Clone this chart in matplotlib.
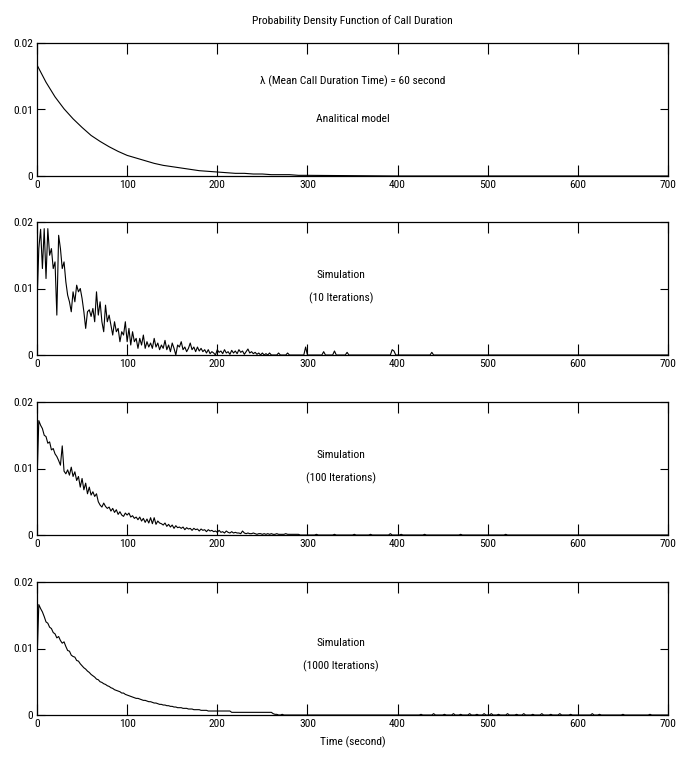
import numpy as np
import matplotlib
matplotlib.use("Agg")
import matplotlib.pyplot as plt
from matplotlib import font_manager as fm


def pick_narrow():
    cands = []
    for f in fm.fontManager.ttflist:
        p = f.fname.lower()
        base = p.rsplit("/", 1)[-1]
        if any(k in base for k in ("bold", "italic", "oblique", "light", "thin", "black", "medium", "semibold")):
            continue
        if "narrow" in base or "condensed" in base:
            if "roboto" in base:
                rank = 0
            elif "liberation" in base:
                rank = 1
            elif "dejavusans" in base.replace("-", ""):
                rank = 2
            else:
                rank = 3
            cands.append((rank, f.fname))
    cands.sort()
    return cands[0][1] if cands else None


narrow_path = pick_narrow()

# ---------------- data ----------------
title = "Probability Density Function of Call Duration"
xlabel = "Time (second)"
x_ticks = [0, 100, 200, 300, 400, 500, 600, 700]
y_ticks = [0, 0.01, 0.02]
y_ticklabels = ["0", "0.01", "0.02"]

# analytical model (sampled every 10 s)
t_model = [0, 10, 20, 30, 40, 50, 60, 70, 80, 90, 100, 110, 120, 130, 140, 150,
           160, 170, 180, 190, 200, 210, 220, 230, 240, 250, 260, 270, 280, 290,
           300, 400, 500, 600, 700]
pdf_model = [0.0167, 0.0141, 0.0119, 0.0101, 0.0086, 0.0073, 0.0061, 0.0052,
             0.0044, 0.0037, 0.0031, 0.0027, 0.0023, 0.0019, 0.0016, 0.0014,
             0.0012, 0.0010, 0.0008, 0.0007, 0.0006, 0.0005, 0.0004, 0.0004,
             0.0003, 0.0003, 0.0002, 0.0002, 0.0002, 0.0001, 0.0001, 0.0,
             0.0, 0.0, 0.0]

# simulations: values every 2 s starting at t = 0
sim10_head = [0.0076, 0.0160, 0.0189, 0.0130, 0.0190, 0.0115, 0.0190, 0.0150,
              0.0160, 0.0130, 0.0140, 0.0060, 0.0180, 0.0160, 0.0130, 0.0140,
              0.0110, 0.0090, 0.0080, 0.0065, 0.0095, 0.0080, 0.0105, 0.0095,
              0.0100, 0.0085, 0.0065, 0.0040, 0.0065, 0.0068, 0.0058, 0.0070,
              0.0050, 0.0095, 0.0060, 0.0080, 0.0050, 0.0035, 0.0075, 0.0050,
              0.0060, 0.0045, 0.0030, 0.0050, 0.0035, 0.0040, 0.0020, 0.0035,
              0.0030, 0.0050, 0.0020, 0.0040, 0.0015, 0.0035, 0.0020, 0.0025,
              0.0010, 0.0025, 0.0015, 0.0030, 0.0010, 0.0020, 0.0012, 0.0018,
              0.0010, 0.0025, 0.0012, 0.0018, 0.0008, 0.0015, 0.0010, 0.0022,
              0.0008, 0.0015, 0.0005, 0.0018, 0.0010, 0.0000, 0.0015, 0.0012,
              0.0020, 0.0008, 0.0012, 0.0005, 0.0010, 0.0018, 0.0008, 0.0012,
              0.0005, 0.0012, 0.0006, 0.0010, 0.0005, 0.0008, 0.0003, 0.0008,
              0.0002, 0.0005, 0.0003, 0.0000, 0.0008, 0.0004, 0.0006, 0.0002,
              0.0008, 0.0003, 0.0005, 0.0001, 0.0007, 0.0003, 0.0006, 0.0002,
              0.0008, 0.0004, 0.0006, 0.0001, 0.0005, 0.0009, 0.0003, 0.0005,
              0.0002, 0.0004, 0.0001, 0.0003, 0.0000, 0.0003, 0.0000, 0.0002,
              0.0000, 0.0003, 0.0000]
sim10_spike_t = [268, 278, 298, 318, 330, 344, 394, 396, 438]
sim10_spike_v = [0.0003, 0.0003, 0.0012, 0.0005, 0.0006, 0.0004, 0.0008, 0.0006, 0.0004]

sim100_head = [0.0080, 0.0172, 0.0165, 0.0160, 0.0150, 0.0148, 0.0138, 0.0140,
               0.0128, 0.0130, 0.0122, 0.0118, 0.0112, 0.0105, 0.0134, 0.0096,
               0.0092, 0.0098, 0.0090, 0.0102, 0.0088, 0.0095, 0.0082, 0.0088,
               0.0072, 0.0085, 0.0068, 0.0078, 0.0062, 0.0072, 0.0060, 0.0065,
               0.0058, 0.0062, 0.0050, 0.0045, 0.0042, 0.0048, 0.0043, 0.0040,
               0.0042, 0.0036, 0.0040, 0.0034, 0.0038, 0.0031, 0.0035, 0.0030,
               0.0028, 0.0033, 0.0030, 0.0033, 0.0027, 0.0029, 0.0025, 0.0027,
               0.0023, 0.0027, 0.0021, 0.0025, 0.0019, 0.0024, 0.0018, 0.0026,
               0.0017, 0.0026, 0.0016, 0.0021, 0.0018, 0.0017, 0.0015, 0.0018,
               0.0013, 0.0016, 0.0012, 0.0015, 0.0010, 0.0014, 0.0011, 0.0012,
               0.0010, 0.0012, 0.0008, 0.0011, 0.0009, 0.0010, 0.0007, 0.0010,
               0.0008, 0.0009, 0.0006, 0.0009, 0.0007, 0.0008, 0.0005, 0.0008,
               0.0006, 0.0007, 0.0005, 0.0006, 0.0004, 0.0007, 0.0004, 0.0005,
               0.0003, 0.0006, 0.0004, 0.0003, 0.0005, 0.0003, 0.0004, 0.0003,
               0.0003, 0.0002, 0.0006, 0.0003, 0.0002, 0.0003, 0.0002, 0.0002,
               0.0003, 0.0002, 0.0001, 0.0002, 0.0002, 0.0001, 0.0002, 0.0001,
               0.0002, 0.0001, 0.0002, 0.0001, 0.0001, 0.0002, 0.0001, 0.0001,
               0.0001, 0.0001, 0.0002, 0.0001, 0.0001, 0.0001, 0.0001, 0.0001,
               0.0001, 0.0001]
sim100_spike_t = [310, 330, 352, 370, 392, 404, 430, 470, 520]
sim100_spike_v = [0.0001, 0.0001, 0.0001, 0.0001, 0.0002, 0.0001, 0.0001, 0.0001, 0.0001]

sim1000_head = [0.0080, 0.0166, 0.0160, 0.0155, 0.0148, 0.0140, 0.0138, 0.0132,
                0.0130, 0.0124, 0.0122, 0.0116, 0.0118, 0.0112, 0.0108, 0.0110,
                0.0103, 0.0097, 0.0096, 0.0090, 0.0088, 0.0087, 0.0082, 0.0081,
                0.0077, 0.0074, 0.0071, 0.0069, 0.0066, 0.0064, 0.0061, 0.0059,
                0.0057, 0.0054, 0.0053, 0.0050, 0.0049, 0.0047, 0.0046, 0.0044,
                0.0043, 0.0041, 0.0040, 0.0038, 0.0037, 0.0036, 0.0035, 0.0033,
                0.0033, 0.0031, 0.0030, 0.0029, 0.0028, 0.0027, 0.0026, 0.0025,
                0.0025, 0.0024, 0.0023, 0.0022, 0.0022, 0.0021, 0.0020, 0.0020,
                0.0019, 0.0018, 0.0018, 0.0017, 0.0016, 0.0016, 0.0015, 0.0015,
                0.0014, 0.0014, 0.0013, 0.0013, 0.0012, 0.0012, 0.0011, 0.0011,
                0.0011, 0.0010, 0.0010, 0.0010, 0.0009, 0.0009, 0.0009, 0.0008,
                0.0008, 0.0008, 0.0008, 0.0007, 0.0007, 0.0007, 0.0007, 0.0006,
                0.0006, 0.0006, 0.0006, 0.0006, 0.0006, 0.0006, 0.0006, 0.0006,
                0.0006, 0.0006, 0.0006, 0.0006, 0.0004, 0.0004, 0.0004, 0.0004,
                0.0004, 0.0004, 0.0004, 0.0004, 0.0004, 0.0004, 0.0004, 0.0004,
                0.0004, 0.0004, 0.0004, 0.0004, 0.0004, 0.0004, 0.0004, 0.0004,
                0.0004, 0.0004, 0.0004, 0.0004, 0.0001]
sim1000_spike_t = [262, 266, 272, 426, 440, 452, 462, 470, 480, 488, 496, 504,
                   512, 522, 532, 540, 550, 560, 570, 580, 592, 616, 624, 650, 680]
sim1000_spike_v = [0.0002, 0.0001, 0.0001, 0.0001, 0.0002, 0.0001, 0.0002, 0.0001,
                   0.0002, 0.0001, 0.0002, 0.0002, 0.0001, 0.0002, 0.0001, 0.0002,
                   0.0001, 0.0002, 0.0001, 0.0002, 0.0001, 0.0002, 0.0001, 0.0001,
                   0.0001]

panel_text = [
    ["\u03bb (Mean Call Duration Time) = 60 second", "Analitical model"],
    ["Simulation", "(10 Iterations)"],
    ["Simulation", "(100 Iterations)"],
    ["Simulation", "(1000 Iterations)"],
]
text_x = [350, 337, 337, 337]
text_y = [[0.0142, 0.0085], [0.0120, 0.0086], [0.0120, 0.0086], [0.0108, 0.0074]]

# ---------------- build series ----------------
step = 2
t_grid = np.arange(0, 700 + step, step)


def build(head, spike_t, spike_v):
    v = np.zeros_like(t_grid, dtype=float)
    v[:len(head)] = head
    for tt, vv in zip(spike_t, spike_v):
        v[tt // step] = vv
    return v


series = [
    (np.array(t_model), np.array(pdf_model)),
    (t_grid, build(sim10_head, sim10_spike_t, sim10_spike_v)),
    (t_grid, build(sim100_head, sim100_spike_t, sim100_spike_v)),
    (t_grid, build(sim1000_head, sim1000_spike_t, sim1000_spike_v)),
]

# ---------------- figure ----------------
fig = plt.figure(figsize=(6.77, 7.63), dpi=100)


def make_fp(size):
    if narrow_path:
        return fm.FontProperties(fname=narrow_path, size=size)
    return fm.FontProperties(family="Liberation Sans", size=size)


# size the font so that the title is about as wide as in the reference (~200 px)
renderer = fig.canvas.get_renderer()
probe = fig.text(0, 0, title, fontproperties=make_fp(9))
w = probe.get_window_extent(renderer).width
probe.remove()
FS = float(np.clip(9 * 200 / w, 7.6, 9.5))
FP = make_fp(FS)

left, width = 37 / 677, (668 - 37) / 677
bottoms_px = [176, 355, 535, 715]
height_px = 133
for i, (tx, ty) in enumerate(series):
    b = 1 - bottoms_px[i] / 763
    ax = fig.add_axes([left, b, width, height_px / 763])
    ax.plot(tx, ty, color='black', lw=0.8)
    ax.set_xlim(0, 700)
    ax.set_ylim(0, 0.02)
    ax.set_xticks(x_ticks)
    ax.set_yticks(y_ticks)
    ax.set_yticklabels(y_ticklabels)
    ax.tick_params(direction='in', top=True, right=True, width=0.8, pad=3)
    ax.tick_params(axis='x', length=8)
    ax.tick_params(axis='y', length=6)
    for lbl in ax.get_xticklabels() + ax.get_yticklabels():
        lbl.set_fontproperties(FP)
    for s in ax.spines.values():
        s.set_linewidth(0.9)
    for k, s in enumerate(panel_text[i]):
        ax.text(text_x[i], text_y[i][k], s, ha='center', va='center',
                fontproperties=FP)
    if i == 0:
        ax.set_title(title, fontproperties=FP, pad=14)
    if i == 3:
        ax.set_xlabel(xlabel, fontproperties=FP, labelpad=5)

fig.savefig("out.png", dpi=100)
